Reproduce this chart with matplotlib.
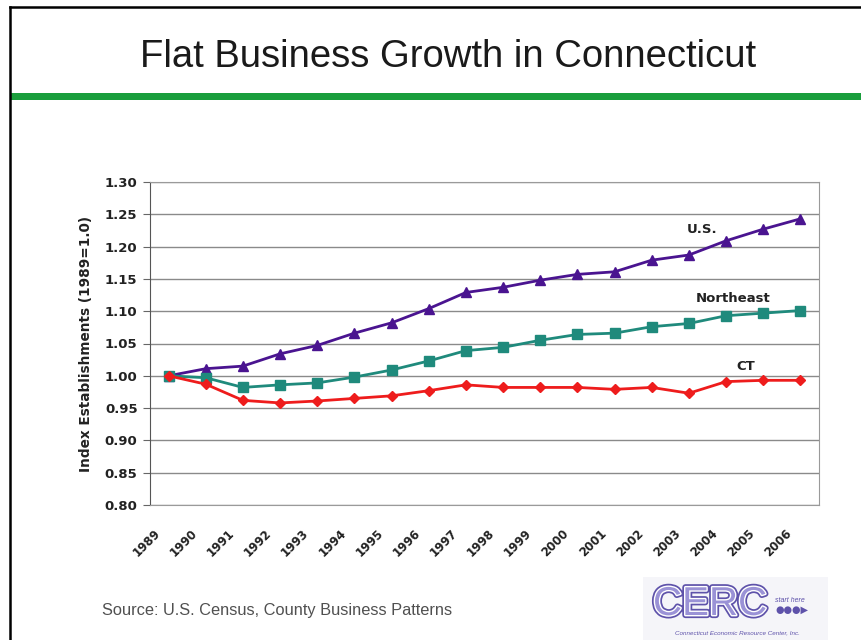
import matplotlib.pyplot as plt
import matplotlib.patheffects as pe
from matplotlib.lines import Line2D
from matplotlib.patches import Rectangle
from matplotlib.transforms import ScaledTranslation

years = [str(y) for y in range(1989, 2007)]

us = [1.000, 1.011, 1.015, 1.034, 1.047, 1.066, 1.082, 1.104, 1.129, 1.137,
      1.148, 1.157, 1.161, 1.179, 1.187, 1.209, 1.227, 1.243]
northeast = [1.000, 0.997, 0.982, 0.986, 0.989, 0.998, 1.009, 1.023, 1.039, 1.044,
             1.055, 1.064, 1.066, 1.076, 1.081, 1.093, 1.097, 1.101]
ct = [1.000, 0.987, 0.962, 0.958, 0.961, 0.965, 0.969, 0.977, 0.986, 0.982,
      0.982, 0.982, 0.979, 0.982, 0.973, 0.991, 0.993, 0.993]

yticks = [0.80, 0.85, 0.90, 0.95, 1.00, 1.05, 1.10, 1.15, 1.20, 1.25, 1.30]

W, H = 861, 640
fig = plt.figure(figsize=(W / 100, H / 100), dpi=100)
fig.patch.set_facecolor('white')
plt.rcParams['font.family'] = ['Liberation Sans', 'DejaVu Sans']
chart_font = ['DejaVu Sans']
logo_col = '#5e52aa'

# slide frame and green rule under the title
fig.add_artist(Line2D([10 / W, 10 / W], [0, 1 - 7 / H], color='black', lw=1.8))
fig.add_artist(Line2D([10 / W, 1], [1 - 7 / H, 1 - 7 / H], color='black', lw=1.8))
fig.add_artist(Rectangle((10 / W, 1 - 100 / H), 1 - 10 / W, 7 / H,
                         color='#1a9e3c', lw=0))

fig.text(448 / W, 1 - 67 / H, 'Flat Business Growth in Connecticut',
         ha='center', va='baseline', fontsize=27.5, color='#1a1a1a')

ax = fig.add_axes([150 / W, 1 - 505 / H, 669 / W, 323 / H])
x = list(range(len(years)))

ax.plot(x, us, color='#4a1490', lw=2, marker='^', ms=7, zorder=3)
ax.plot(x, northeast, color='#1f8a7c', lw=2, marker='s', ms=7, zorder=3)
ax.plot(x, ct, color='#ee1c1c', lw=2, marker='D', ms=5, zorder=3)

lab = dict(fontsize=9.5, fontweight='bold', color='#222222', va='center',
           family=chart_font)
ax.text(13.95, 1.226, 'U.S.', **lab)
ax.text(14.19, 1.120, 'Northeast', **lab)
ax.text(15.29, 1.015, 'CT', **lab)

ax.set_xlim(-0.5, len(years) - 0.5)
ax.set_ylim(0.80, 1.30)
ax.set_yticks(yticks)
ax.set_yticklabels([f'{v:.2f}' for v in yticks], fontsize=9.5,
                   fontweight='bold', family=chart_font, color='#222222')
ax.set_xticks(x)
ax.set_xticklabels(years, rotation=45, ha='right', rotation_mode='anchor',
                   fontsize=8.5, fontweight='bold', family=chart_font,
                   color='#222222')
ax.tick_params(axis='x', length=0, pad=8)
ax.tick_params(axis='y', length=5, color='#666666', pad=4)
# nudge the slanted year labels down and to the left
shift = ScaledTranslation(-0.15, -0.11, fig.dpi_scale_trans)
for t in ax.get_xticklabels():
    t.set_transform(t.get_transform() + shift)
ax.grid(axis='y', color='#8a8a8a', lw=1)
ax.set_axisbelow(True)
for s in ax.spines.values():
    s.set_color('#9a9a9a')
ax.spines['left'].set_color('#555555')
ax.set_ylabel('Index Establishments (1989=1.0)', fontsize=9.8,
              fontweight='bold', family=chart_font, color='#222222')
ax.yaxis.set_label_coords(-0.085, 0.5)

fig.text(102 / W, 1 - 610 / H, 'Source: U.S. Census, County Business Patterns',
         ha='left', va='center', fontsize=11.8, color='#505050')

# CERC logo
fig.add_artist(Rectangle((643 / W, 0), 185 / W, 63 / H,
                         color='#f5f5f9', lw=0))
fig.text(653 / W, 1 - 615 / H, 'CERC', fontsize=29, color='#9a92d6',
         ha='left', va='baseline',
         path_effects=[pe.Stroke(linewidth=4.5, foreground=logo_col),
                       pe.Stroke(linewidth=2, foreground='white'),
                       pe.Normal()])
fig.text(775 / W, 1 - 600 / H, 'start here', fontsize=5, color=logo_col,
         ha='left', va='center', fontstyle='italic')
fig.text(775 / W, 1 - 610 / H, '\u25cf\u25cf\u25cf\u25b6', fontsize=7,
         color=logo_col, ha='left', va='center', family=chart_font)
fig.text(737 / W, 1 - 633 / H, 'Connecticut Economic Resource Center, Inc.',
         fontsize=4.5, color=logo_col, ha='center', va='center',
         fontstyle='italic')

fig.savefig('out.png', dpi=100)
